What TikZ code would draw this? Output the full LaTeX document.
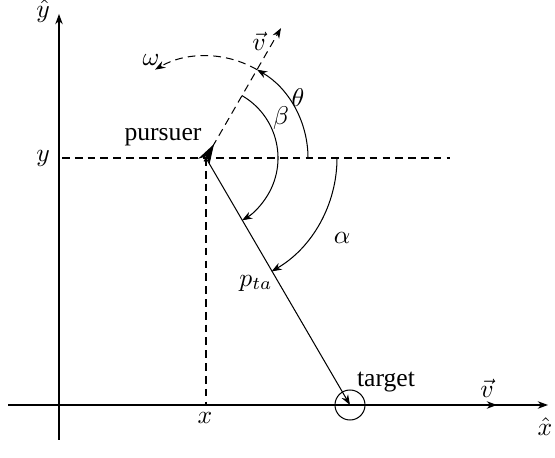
\documentclass[tikz,border=0pt]{standalone}
\usepackage{fontspec}
\setmainfont{Liberation Serif}
\usetikzlibrary{arrows.meta,calc}
\begin{document}
\begin{tikzpicture}[x=0.39pt,y=0.39pt,>={Stealth[length=4pt,width=2.9pt]},
    dashed/.style={dash pattern=on 3pt off 2pt}]
    \useasboundingbox (0,0) rectangle (555,458);
    % Các điểm chính
    \coordinate (O) at (59,53);
    \coordinate (P) at (206,300);
    \coordinate (T) at (350,53);
    \coordinate (xL) at (8,53);
    \coordinate (xR) at (548,53);
    \coordinate (yB) at (59,18);
    \coordinate (yT) at (59,444);
    \coordinate (Px) at (206,53);
    \coordinate (yL) at (62,300);
    \coordinate (yR) at (450,300);
    \coordinate (H) at ($(P)+(60:150)$);
    \coordinate (Tv) at (497,53);

    % Vẽ trục tọa độ
    \draw[->] (xL) -- (xR);
    \draw[->] (yB) -- (yT);
    \node (lblxhat) at (545,31) {$\hat{x}$};
    \node (lblyhat) at (43,447) {$\hat{y}$};

    % Đường gióng vị trí pursuer
    \draw[dashed] (yL) -- (yR);
    \draw[dashed] (P) -- (Px);
    \node (lbly) at (43,300) {$y$};
    \node (lblx) at (205,40) {$x$};

    % Hướng vận tốc pursuer
    \draw[dashed,->] (P) -- (H);
    \node (lblv) at (259,417) {$\vec{v}$};
    \draw[-{Stealth[length=8pt,width=5pt]}] ($(P)+(240:4)$) -- ($(P)+(60:16)$);
    \node (pursuer) at (163,321) {pursuer};

    % Các góc
    \draw[->] ($(P)+(0:102)$) arc[start angle=0,end angle=60,radius=102];
    \draw[dashed,->] ($(P)+(60:102)$) arc[start angle=60,end angle=120,radius=102];
    \draw[->] ($(P)+(60:72)$) arc[start angle=60,end angle=-60,radius=72];
    \draw[->] ($(P)+(0:131)$) arc[start angle=0,end angle=-60,radius=131];
    \node (lbltheta) at (298,360) {$\theta$};
    \node (lblomega) at (151,398) {$\omega$};
    \node (lblbeta) at (281,340) {$\beta$};
    \node (lblalpha) at (342,220) {$\alpha$};

    % Target
    \draw[->] (P) -- (T);
    \node (lblpta) at (256,175) {$p_{ta}$};
    \node[circle,draw,minimum size=11.7pt,inner sep=0pt] (tgt) at (T) {};
    \node (target) at (386,76) {target};
    \draw[dashed,->] (T) -- (Tv);
    \node (lblvt) at (487,70) {$\vec{v}$};
\end{tikzpicture}
\end{document}
